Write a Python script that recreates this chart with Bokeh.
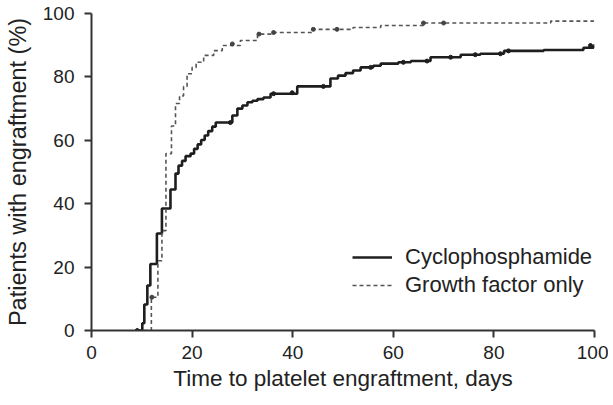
from bokeh.plotting import figure
from bokeh.models import Range1d, Legend, LegendItem, FixedTicker
from bokeh.embed import file_html
from bokeh.resources import INLINE

# Cyclophosphamide (step curve: time, cumulative % at that time)
cyc_days = [9.0, 10.1, 10.5, 11.1, 11.7, 13.0, 14.0, 15.7, 16.7, 17.3, 18.0, 18.7, 19.7,
            20.4, 21.1, 21.8, 22.5, 23.2, 24.0, 24.7, 28.0, 29.0, 30.0, 31.0, 32.0, 33.0,
            34.2, 35.6, 40.9, 47.5, 49.0, 50.5, 52.0, 53.5, 56.0, 57.5, 61.0, 63.5, 67.4,
            73.4, 77.3, 82.0, 89.9, 97.8, 99.8, 100.0]
cyc_pct = [0, 2.3, 8.2, 14.2, 21.0, 30.6, 38.5, 44.5, 49.5, 52.0, 53.5, 55.0, 55.8,
           57.3, 58.7, 60.1, 61.5, 62.9, 64.3, 65.6, 67.8, 70.0, 71.0, 72.0, 72.5, 73.0,
           73.5, 74.7, 77.0, 79.5, 80.4, 81.2, 82.0, 83.0, 83.5, 84.2, 84.6, 85.0, 86.2,
           87.0, 87.3, 88.2, 88.5, 89.2, 89.9, 89.9]

# Growth factor only
gf_days = [9.0, 11.9, 13.2, 14.0, 14.8, 15.9, 16.7, 17.5, 18.3, 19.0, 20.0, 20.8, 22.3,
           24.3, 26.0, 29.6, 33.0, 36.0, 44.0, 52.0, 57.5, 66.0, 91.3, 99.8, 100.0]
gf_pct = [0, 10.5, 22.0, 31.5, 55.8, 64.5, 71.6, 74.0, 77.0, 81.0, 83.0, 84.6, 86.8,
          88.3, 89.9, 91.5, 93.5, 94.0, 95.0, 95.6, 96.2, 97.0, 97.6, 98.0, 98.0]

# Censored observations
cyc_cens_days = [9.1, 27.6, 36.2, 39.9, 46.1, 55.5, 62.0, 66.7, 71.4, 76.3, 81.3, 82.9, 99.2]
cyc_cens_pct = [0, 65.6, 74.7, 75.0, 77.0, 83.0, 84.6, 85.0, 86.2, 87.0, 87.3, 88.2, 89.9]
gf_cens_days = [12.0, 28.0, 33.3, 36.2, 44.1, 48.8, 66.0, 70.0]
gf_cens_pct = [10.5, 90.4, 93.5, 94.0, 95.0, 95.0, 97.0, 97.0]

x_ticks = [0, 20, 40, 60, 80, 100]
y_ticks = [0, 20, 40, 60, 80, 100]

FONT = "Liberation Sans"
AX = "#333333"

p = figure(width=608, height=400, output_backend="svg", toolbar_location=None,
           x_range=Range1d(0, 100), y_range=Range1d(0, 100),
           min_border_left=91, min_border_right=14, min_border_top=13, min_border_bottom=70)
p.outline_line_color = None
p.grid.visible = False

r1 = p.step(cyc_days, cyc_pct, mode="after", line_color="#1e1e1e", line_width=2.6)
r2 = p.step(gf_days, gf_pct, mode="after", line_color="#555555", line_width=1.6,
            line_dash="4 3")
p.scatter(cyc_cens_days, cyc_cens_pct, size=4, color="#1e1e1e")
p.scatter(gf_cens_days, gf_cens_pct, size=4, color="#444444")

for ax in (p.xaxis[0], p.yaxis[0]):
    ax.axis_line_color = AX
    ax.axis_line_width = 2
    ax.major_tick_line_color = AX
    ax.major_tick_line_width = 2
    ax.major_tick_out = 7
    ax.major_tick_in = 0
    ax.minor_tick_line_color = None
    ax.major_label_text_font = FONT
    ax.major_label_text_font_size = "19px"
    ax.major_label_text_color = "#222222"
    ax.axis_label_text_font = FONT
    ax.axis_label_text_font_style = "normal"
    ax.axis_label_text_color = "#222222"

p.xaxis.axis_label_text_font_size = "22.5px"
p.yaxis.axis_label_text_font_size = "23.5px"
p.xaxis.ticker = FixedTicker(ticks=x_ticks)
p.yaxis.ticker = FixedTicker(ticks=y_ticks)
p.xaxis.axis_label = "Time to platelet engraftment, days"
p.yaxis.axis_label = "Patients with engraftment (%)"
p.xaxis.major_label_standoff = 8
p.yaxis.major_label_standoff = 10
p.xaxis.axis_label_standoff = 4
p.yaxis.axis_label_standoff = 9

legend = Legend(items=[LegendItem(label="Cyclophosphamide", renderers=[r1]),
                       LegendItem(label="Growth factor only", renderers=[r2])],
                location=(261, 32), padding=0, margin=0, spacing=2,
                glyph_width=40, glyph_height=26, label_height=26, label_standoff=13,
                border_line_color=None, background_fill_alpha=0,
                label_text_font=FONT, label_text_font_size="22px",
                label_text_line_height=1.0,
                label_text_color="#222222")
p.add_layout(legend)

open("out.html", "w").write(file_html(p, INLINE))
